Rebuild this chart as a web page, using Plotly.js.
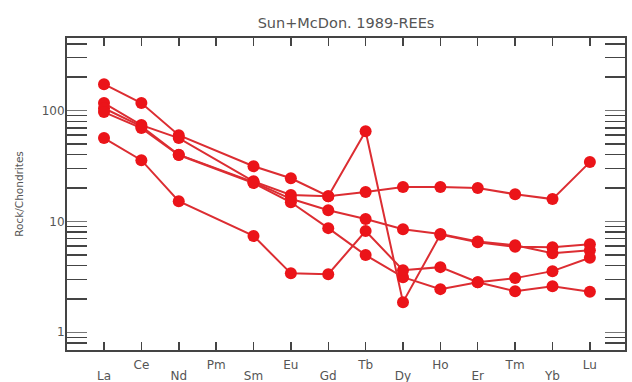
<!DOCTYPE html>
<html>
<head>
<meta charset="utf-8">
<script src="https://cdn.plot.ly/plotly-3.0.1.min.js"></script>
<style>html,body{margin:0;padding:0;background:#fff;}#chart{width:632px;height:382px;}</style>
</head>
<body>
<div id="chart"></div>
<script>
// Categories (chondrite-normalised REE, Sun & McDonough 1989)
const elements = ["La","Ce","Nd","Pm","Sm","Eu","Gd","Tb","Dy","Ho","Er","Tm","Yb","Lu"];
const upperRow = ["Ce","Pm","Eu","Tb","Ho","Tm","Lu"];
const lowerRow = ["La","Nd","Sm","Gd","Dy","Er","Yb"];

// Sample values (Rock/Chondrites); Pm not analysed (null)
const sample1 = [173, 117, 60, null, 31.5, 24.5, 16.9, 18.4, 20.4, 20.4, 20.0, 17.6, 15.9, 34.3];
const sample2 = [117, 74, 56.5, null, 23.0, 17.3, 16.9, 65, 1.87, 7.6, 6.5, 5.9, 5.86, 6.24];
const sample3 = [105, 72, 40, null, 22.6, 16.0, 12.6, 10.5, 8.5, 7.7, 6.6, 6.1, 5.17, 5.5];
const sample4 = [97, 69.5, 39.7, null, 22.2, 14.9, 8.7, 4.97, 3.14, 2.45, 2.83, 3.08, 3.56, 4.7];
const sample5 = [56.5, 35.7, 15.2, null, 7.4, 3.4, 3.34, 8.2, 3.63, 3.87, 2.83, 2.35, 2.6, 2.32];

const series = [sample1, sample2, sample3, sample4, sample5];

const yMajor = [1, 10, 100];
const yMinor = [0.7, 0.8, 0.9, 2, 3, 4, 5, 6, 7, 8, 9, 20, 30, 40, 50, 60, 70, 80, 90, 200, 300, 400];

const FONT = "DejaVu Sans, Liberation Sans, Arial, sans-serif";
const xRange = [-0.99, 13.94];

const traces = series.map(vals => ({
  type: "scatter",
  mode: "lines+markers",
  x: elements,
  y: vals,
  connectgaps: true,
  line: {color: "rgb(220,45,50)", width: 2},
  marker: {color: "rgb(235,20,25)", size: 12, symbol: "circle"},
  showlegend: false,
  hoverinfo: "x+y"
}));

// invisible carrier trace for the second (lower-row label) x axis
traces.push({
  type: "scatter", mode: "markers", x: elements, y: sample1,
  xaxis: "x2", yaxis: "y", marker: {opacity: 0}, showlegend: false, hoverinfo: "skip"
});

const layout = {
  width: 632,
  height: 382,
  margin: {l: 67, r: 7, t: 38, b: 32, pad: 0},
  paper_bgcolor: "#fff",
  plot_bgcolor: "#fff",
  font: {family: FONT, color: "#555", size: 12},
  title: {
    text: "Sun+McDon. 1989-REEs",
    x: 0.5, xref: "paper", y: 0.952, yref: "container",
    xanchor: "center",
    font: {size: 14.5, color: "#555", family: FONT}
  },
  xaxis: {
    type: "category",
    categoryorder: "array",
    categoryarray: elements,
    range: xRange,
    tickmode: "array",
    tickvals: elements,
    ticktext: elements.map(e => upperRow.includes(e) ? e : ""),
    ticks: "inside",
    ticklen: 8,
    tickwidth: 1.5,
    tickcolor: "#444",
    ticklabelstandoff: 3,
    showline: true,
    linecolor: "#444",
    linewidth: 2,
    mirror: "allticks",
    showgrid: false,
    zeroline: false,
    tickfont: {size: 12, color: "#555", family: FONT}
  },
  xaxis2: {
    type: "category",
    categoryorder: "array",
    categoryarray: elements,
    range: xRange,
    overlaying: "x",
    anchor: "y",
    side: "bottom",
    tickmode: "array",
    tickvals: lowerRow,
    ticktext: lowerRow,
    ticks: "",
    ticklabelstandoff: 17,
    showline: false,
    showgrid: false,
    zeroline: false,
    tickfont: {size: 12, color: "#555", family: FONT}
  },
  yaxis: {
    type: "log",
    range: [-0.16, 2.655],
    tickmode: "array",
    tickvals: yMajor,
    ticktext: yMajor.map(String),
    ticks: "inside",
    ticklen: 20,
    tickwidth: 1,
    tickcolor: "#777",
    ticklabelstandoff: -2,
    showline: true,
    linecolor: "#444",
    linewidth: 2,
    mirror: "allticks",
    showgrid: false,
    zeroline: false,
    tickfont: {size: 12, color: "#555", family: FONT},
    minor: {
      tickmode: "array",
      tickvals: yMinor,
      ticks: "inside",
      ticklen: 10,
      tickwidth: 1.5,
      tickcolor: "#444",
      showgrid: false
    },
    title: {text: "Rock/Chondrites", standoff: 16, font: {size: 10.5, color: "#555", family: FONT}}
  }
};

Plotly.newPlot("chart", traces, layout, {displayModeBar: false, staticPlot: true});
</script>
</body>
</html>
